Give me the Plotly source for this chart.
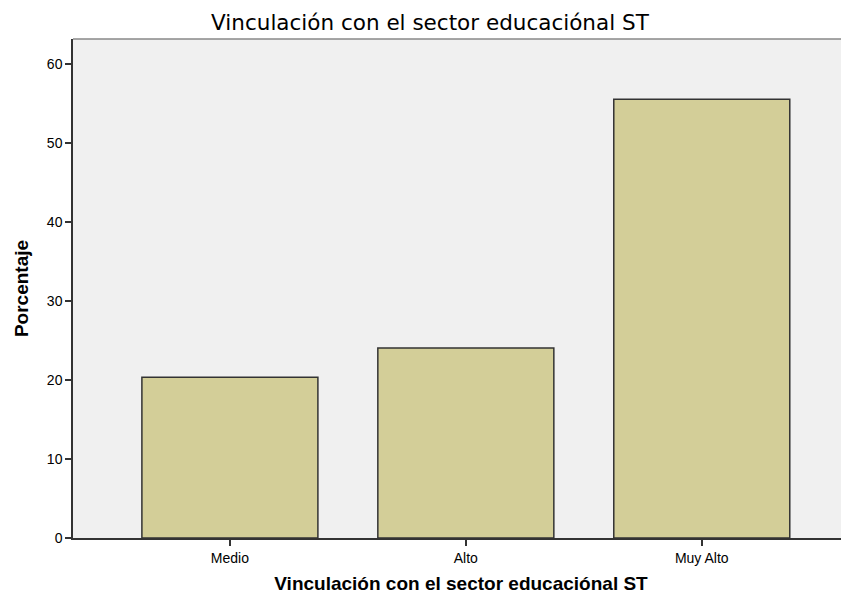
import plotly.graph_objects as go

categories = ["Medio", "Alto", "Muy Alto"]
porcentaje = [20.37, 24.07, 55.56]
y_ticks = [0, 10, 20, 30, 40, 50, 60]

title_text = "Vinculación con el sector educaciónal ST"

fig = go.Figure()
fig.add_trace(go.Bar(
    x=[0, 1, 2],
    y=porcentaje,
    width=0.746,
    marker=dict(color="#D3CE98", line=dict(color="#333333", width=1.5)),
    hoverinfo="y",
))

# page has an 8px body margin, so the figure is offset by 8px
fig.update_layout(
    width=849, height=595,
    margin=dict(l=65, r=8, t=31, b=65),
    paper_bgcolor="white",
    plot_bgcolor="#F0F0F0",
    showlegend=False,
    title=dict(text=title_text, x=0.497, xanchor="center", y=0.975, yanchor="middle",
               font=dict(family="DejaVu Sans", size=21.5, color="black")),
    font=dict(family="Liberation Sans, Arial", color="black"),
)

fig.update_xaxes(
    range=[-0.665, 2.624],
    tickvals=[0, 1, 2], ticktext=categories,
    ticks="outside", ticklen=6, tickcolor="#333333", tickwidth=1.5,
    tickfont=dict(family="Liberation Sans, Arial", size=14),
    showline=True, linecolor="#333333", linewidth=1.5,
    showgrid=False, zeroline=False, automargin=False,
    title=dict(text="<b>" + title_text + "</b>", standoff=12,
               font=dict(family="Liberation Sans, Arial", size=19)),
)
fig.update_yaxes(
    range=[0, 63.2],
    tickvals=y_ticks,
    ticks="outside", ticklen=6, tickcolor="#333333", tickwidth=1.5,
    tickfont=dict(family="Liberation Sans, Arial", size=14),
    showline=True, linecolor="#333333", linewidth=1.5,
    showgrid=False, zeroline=False, automargin=False,
    title=dict(text="<b>Porcentaje</b>", standoff=13,
               font=dict(family="Liberation Sans, Arial", size=19)),
)

# light top frame line
fig.add_shape(type="line", xref="paper", yref="paper", x0=0, x1=1, y0=1, y1=1,
              line=dict(color="#888888", width=1.5))

fig.write_html("out.html")
